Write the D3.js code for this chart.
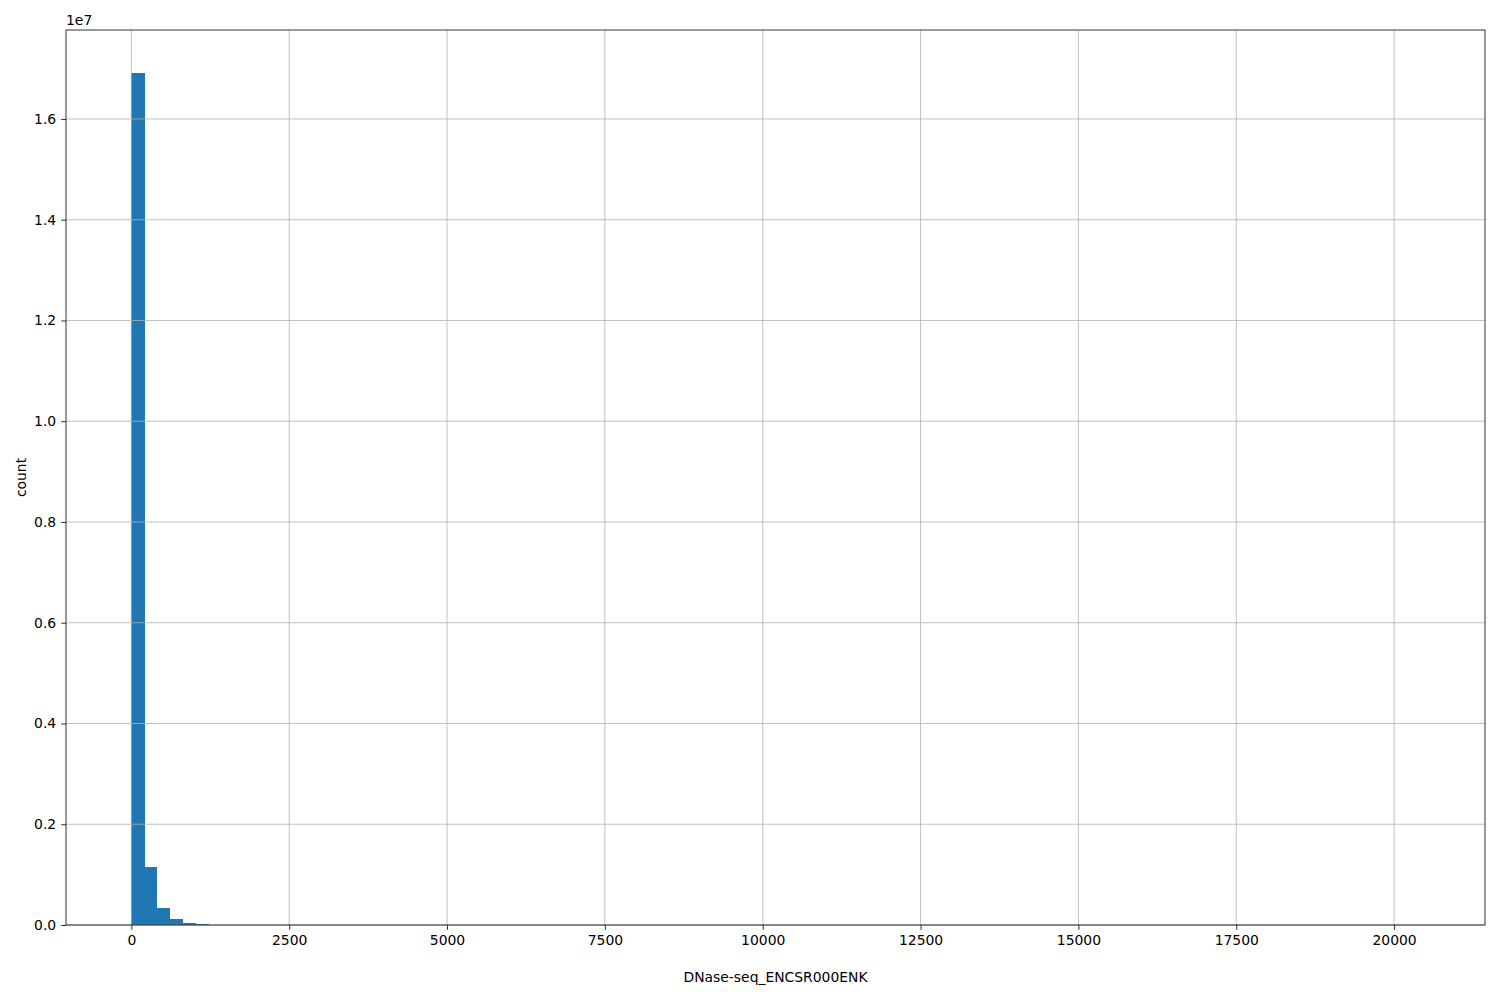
<!DOCTYPE html>
<html><head><meta charset="utf-8">
<script src="https://cdn.jsdelivr.net/npm/d3@7"></script>
<style>body{margin:0;background:#fff}svg{display:block}text{font-family:"DejaVu Sans",sans-serif}</style>
</head><body><svg id="c" width="1500" height="1000"></svg>
<script>
// Histogram: 100 bins spanning [0, dataMax]
const dataMin = 0;
const dataMax = 20420;
const binCount = 100;
// counts per bin (first bins visible; remaining tail small)
const binCounts = [16920000, 1157000, 343000, 119000, 46000, 20000, 9500, 4800, 2600, 1500,
  900, 560, 360, 240, 160, 110, 80, 55, 40, 30,
  22, 17, 13, 10, 8, 6, 5, 4, 3, 3,
  2, 2, 2, 1, 1, 1, 1, 1, 1, 0,
  1, 0, 1, 0, 0, 1, 0, 0, 0, 0,
  0, 0, 0, 0, 1, 0, 0, 0, 0, 0,
  0, 0, 0, 0, 0, 0, 0, 0, 0, 0,
  0, 0, 0, 0, 0, 0, 0, 0, 0, 0,
  0, 0, 0, 0, 0, 0, 0, 0, 0, 0,
  0, 0, 0, 0, 0, 0, 0, 0, 0, 1];
const xDomain = [-1035, 21440];
const xTicks = [0, 2500, 5000, 7500, 10000, 12500, 15000, 17500, 20000];
const yTicks = [0, 0.2e7, 0.4e7, 0.6e7, 0.8e7, 1.0e7, 1.2e7, 1.4e7, 1.6e7];
const xLabel = "DNase-seq_ENCSR000ENK";
const yLabel = "count";

const L = 66, R = 1485, T = 30, B = 925;
const svg = d3.select("#c");
const span = dataMax - dataMin;
const x = d3.scaleLinear().domain(xDomain).range([L, R]);
const yMax = d3.max(binCounts);
const y = d3.scaleLinear().domain([0, yMax * 1.05]).range([B, T]);
const bw = span / binCount;

const bins = binCounts.map((c, i) => ({x0: dataMin + i * bw, x1: dataMin + (i + 1) * bw, c}));

svg.append("g").attr("shape-rendering", "crispEdges").selectAll("rect").data(bins.filter(d => d.c > 0)).join("rect")
  .attr("x", d => x(d.x0)).attr("width", d => x(d.x1) - x(d.x0) + 0.3)
  .attr("y", d => y(d.c)).attr("height", d => B - y(d.c))
  .attr("fill", "#1f77b4");

// grid (above bars, like matplotlib default)
const grid = svg.append("g").attr("stroke", "#b0b0b0").attr("stroke-width", 0.8);
grid.selectAll(".gx").data(xTicks).join("line")
  .attr("x1", d => x(d)).attr("x2", d => x(d)).attr("y1", T).attr("y2", B);
grid.selectAll(".gy").data(yTicks).join("line")
  .attr("x1", L).attr("x2", R).attr("y1", d => y(d)).attr("y2", d => y(d));

const xAxis = d3.axisBottom(x).tickValues(xTicks).tickSize(4.9).tickPadding(4.9).tickFormat(d3.format("d"));
const gx = svg.append("g").attr("transform", `translate(0,${B})`).call(xAxis);
const yAxis = d3.axisLeft(y).tickValues(yTicks).tickSize(4.9).tickPadding(4.9).tickFormat(d => (d / 1e7).toFixed(1));
const gy = svg.append("g").attr("transform", `translate(${L},0)`).call(yAxis);
[gx, gy].forEach(g => {
  g.select(".domain").remove();
  g.selectAll("line").attr("stroke", "#000").attr("stroke-width", 0.8);
  g.selectAll("text").attr("font-size", "13.9px").attr("fill", "#000").attr("font-family", "DejaVu Sans, sans-serif");
});

// spines
svg.append("rect").attr("x", L).attr("y", T).attr("width", R - L).attr("height", B - T)
  .attr("fill", "none").attr("stroke", "#000").attr("stroke-width", 0.8);

svg.append("text").attr("x", L).attr("y", T - 5).attr("font-size", "13.9px").text("1e7");
svg.append("text").attr("x", (L + R) / 2).attr("y", 982).attr("text-anchor", "middle").attr("font-size", "13.9px").text(xLabel);
svg.append("text").attr("transform", `translate(26,${(T + B) / 2}) rotate(-90)`).attr("text-anchor", "middle").attr("font-size", "13.9px").text(yLabel);
</script></body></html>
